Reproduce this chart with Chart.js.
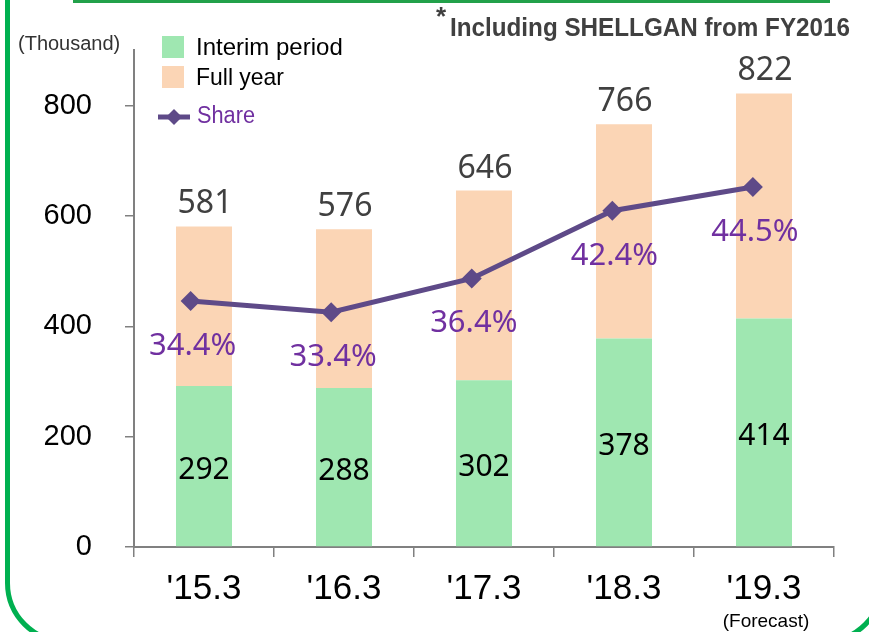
<!DOCTYPE html>
<html>
<head>
<meta charset="utf-8">
<title>Share chart</title>
<script src="https://cdn.jsdelivr.net/npm/chart.js@4.4.0/dist/chart.umd.min.js"></script>
<style>
  html, body { margin: 0; padding: 0; background: #fff; }
  #wrap { position: relative; width: 869px; height: 632px; overflow: hidden; }
  #frame { position: absolute; left: 5px; top: -100px; width: 880px; height: 744px; border: 5px solid #00b050; border-radius: 61px; box-sizing: border-box; pointer-events: none; }
  #topline { position: absolute; left: 73px; top: 0; width: 757px; height: 3px; background: #22a14a; }
  canvas { position: absolute; left: 0; top: 0; }
</style>
</head>
<body>
<div id="wrap">
  <canvas id="myChart" width="869" height="632"></canvas>
  <div id="frame"></div>
  <div id="topline"></div>
</div>
<script>
// data
const years = ["'15.3", "'16.3", "'17.3", "'18.3", "'19.3"];
const interim = [292, 288, 302, 378, 414];
const fullYear = [581, 576, 646, 766, 822];
const share = [34.4, 33.4, 36.4, 42.4, 44.5];
const yTicks = [0, 200, 400, 600, 800];

const green = '#9fe7b1';
const peach = '#fbd5b5';
const lineCol = '#5e4a88';
const purple = '#7030a0';
const axisCol = '#808080';
const AX = 'Liberation Sans, Arial, sans-serif';
const NS = '"Noto Sans", sans-serif';

// the rest of the year sits on top of the interim part
const secondHalf = fullYear.map((v, i) => v - interim[i]);

// labels on bars / points, plus legend and notes
const extras = {
  id: 'extras',
  afterDatasetsDraw(chart) {
    const ctx = chart.ctx;
    ctx.save();
    ctx.textAlign = 'center';

    chart.getDatasetMeta(0).data.forEach((bar, i) => {
      ctx.font = '30px ' + NS;
      ctx.fillStyle = '#000';
      ctx.textBaseline = 'middle';
      ctx.fillText(interim[i], bar.x, (bar.y + bar.base) / 2 + 4);
    });
    chart.getDatasetMeta(1).data.forEach((bar, i) => {
      ctx.font = '32px ' + NS;
      ctx.fillStyle = '#404040';
      ctx.textBaseline = 'alphabetic';
      ctx.fillText(fullYear[i], bar.x + 1, bar.y - 13);
    });
    chart.getDatasetMeta(2).data.forEach((pt, i) => {
      ctx.font = '31px ' + NS;
      ctx.fillStyle = purple;
      ctx.textBaseline = 'alphabetic';
      ctx.fillText(share[i].toFixed(1) + '%', pt.x + 2, pt.y + 54);
    });
    ctx.restore();
  },
  afterDraw(chart) {
    const ctx = chart.ctx;
    const ds = chart.data.datasets;
    ctx.save();

    // unit
    ctx.font = '20px ' + AX;
    ctx.fillStyle = '#333';
    ctx.textAlign = 'left';
    ctx.textBaseline = 'middle';
    ctx.fillText('(Thousand)', 18, 44, 107);

    // note at top right
    ctx.font = 'bold 26px ' + AX;
    ctx.fillStyle = '#404040';
    ctx.fillText('*', 436, 18);
    ctx.font = 'bold 26px ' + AX;
    ctx.fillText('Including SHELLGAN from FY2016', 450, 29, 400);

    // legend
    ctx.fillStyle = ds[0].backgroundColor;
    ctx.fillRect(162, 36, 22, 22);
    ctx.fillStyle = ds[1].backgroundColor;
    ctx.fillRect(162, 66, 22, 22);
    ctx.font = '24px ' + AX;
    ctx.fillStyle = '#000';
    ctx.fillText(ds[0].label, 196, 48, 150);
    ctx.fillText(ds[1].label, 196, 78, 88);

    ctx.strokeStyle = ds[2].borderColor;
    ctx.lineWidth = 5;
    ctx.beginPath();
    ctx.moveTo(158, 117);
    ctx.lineTo(190, 117);
    ctx.stroke();
    ctx.fillStyle = ds[2].borderColor;
    ctx.beginPath();
    ctx.moveTo(174, 109);
    ctx.lineTo(182, 117);
    ctx.lineTo(174, 125);
    ctx.lineTo(166, 117);
    ctx.closePath();
    ctx.fill();
    ctx.font = '23px ' + AX;
    ctx.fillStyle = purple;
    ctx.fillText(ds[2].label, 197, 117, 58);

    // forecast note under the last year
    const xs = chart.scales.x;
    ctx.font = '19px ' + AX;
    ctx.fillStyle = '#000';
    ctx.textAlign = 'center';
    ctx.fillText('(Forecast)', xs.getPixelForValue(4) + 2, 622, 88);
    ctx.restore();
  }
};

const ctx = document.getElementById('myChart').getContext('2d');
const myChart = new Chart(ctx, {
  type: 'bar',
  data: {
    labels: years,
    datasets: [
      {
        label: 'Interim period',
        data: interim,
        backgroundColor: green,
        stack: 'fy',
        grouped: false,
        order: 2
      },
      {
        label: 'Full year',
        data: secondHalf,
        backgroundColor: peach,
        stack: 'fy',
        grouped: false,
        order: 2
      },
      {
        type: 'line',
        label: 'Share',
        data: share.map((v, i) => ({ x: i, y: v })),
        xAxisID: 'x2',
        yAxisID: 'y2',
        borderColor: lineCol,
        backgroundColor: lineCol,
        borderWidth: 5,
        pointStyle: 'rectRot',
        pointRadius: 10,
        pointBackgroundColor: lineCol,
        pointBorderWidth: 0,
        tension: 0,
        order: 1
      }
    ]
  },
  options: {
    responsive: false,
    animation: false,
    devicePixelRatio: 1,
    layout: { padding: { left: 0, right: 35, top: 50, bottom: 0 } },
    plugins: { legend: { display: false }, tooltip: { enabled: false } },
    datasets: { bar: { barPercentage: 0.4, categoryPercentage: 1 } },
    scales: {
      x: {
        stacked: true,
        grid: { drawOnChartArea: false, offset: true, tickLength: 10, color: axisCol, lineWidth: 1.5 },
        border: { color: axisCol, width: 2 },
        ticks: { font: { family: AX, size: 35 }, color: '#000', padding: 11 },
        afterFit: s => { s.height = 85; }
      },
      y: {
        stacked: true,
        min: 0,
        max: 900,
        ticks: { stepSize: 200, font: { family: AX, size: 29 }, color: '#000', padding: 33 },
        afterBuildTicks: s => { s.ticks = yTicks.map(v => ({ value: v })); },
        grid: { drawOnChartArea: false, tickLength: 9, color: axisCol, lineWidth: 1.5 },
        border: { color: axisCol, width: 2 },
        afterFit: s => { s.width = 134; }
      },
      x2: { type: 'linear', display: false, offset: false, grid: { offset: false }, min: -0.403, max: 4.577 },
      y2: { display: false, min: 12.6, max: 56.6 }
    }
  },
  plugins: [extras]
});
</script>
</body>
</html>
